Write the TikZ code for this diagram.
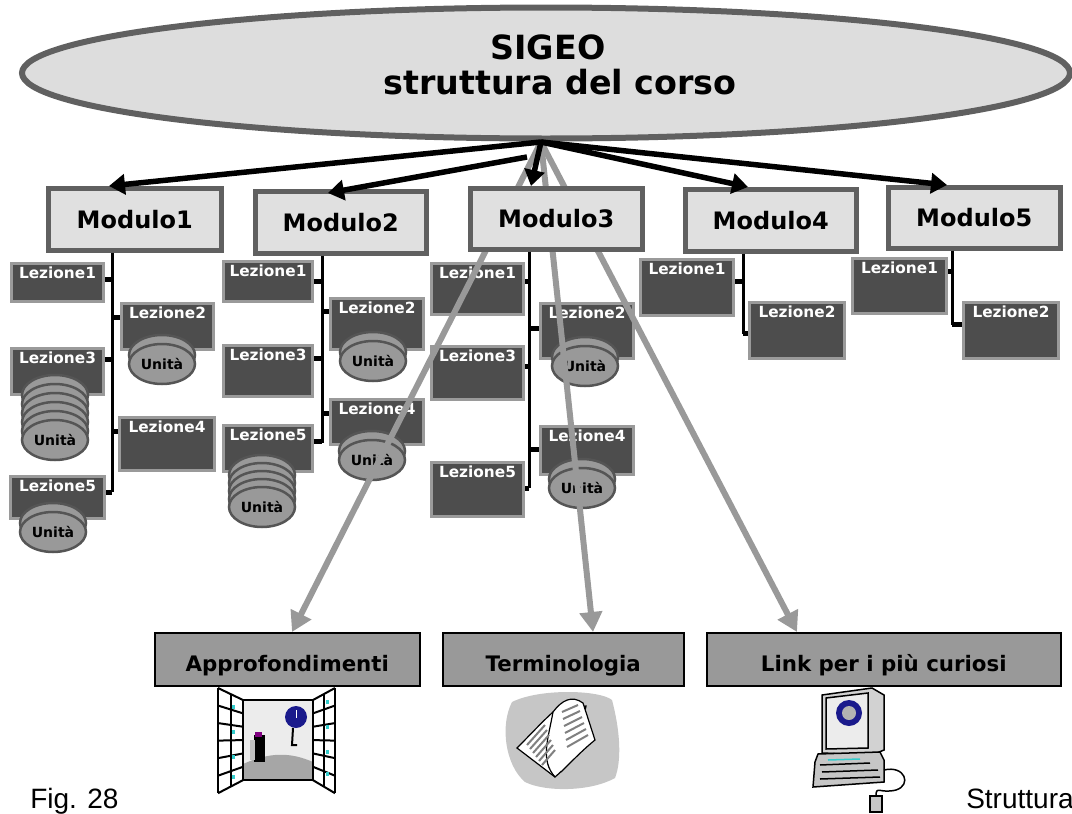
\documentclass[tikz,border=0pt]{standalone}
\usepackage{fontspec}
\setmainfont{DejaVu Sans}
\newfontfamily\capfont{Liberation Sans}
\usetikzlibrary{arrows.meta,shapes.geometric,calc}

\newlength\pxu \setlength\pxu{0.75pt}

\definecolor{ellfill}{HTML}{DDDDDD}
\definecolor{ellline}{HTML}{606060}
\definecolor{modfill}{HTML}{E0E0E0}
\definecolor{lesfill}{HTML}{4D4D4D}
\definecolor{lesline}{HTML}{9A9A9A}
\definecolor{diskfill}{HTML}{999999}
\definecolor{diskline}{HTML}{555555}
\definecolor{extfill}{HTML}{999999}
\definecolor{grayarrow}{HTML}{999999}
\definecolor{paneblue}{HTML}{33CCCC}
\definecolor{globeblue}{HTML}{1A1A8C}

\tikzset{
  course/.style={ellipse, draw=ellline, fill=ellfill, line width=6\pxu,
    minimum width=1048\pxu, minimum height=131\pxu, inner sep=0pt},
  coursetext/.style={font=\bfseries\fontsize{25}{26}\selectfont, inner sep=0pt, anchor=base},
  modbox/.style={rectangle, draw=ellline, fill=modfill, line width=4.5\pxu,
    anchor=north west, inner sep=0pt, font=\bfseries\fontsize{18}{20}\selectfont},
  lesbox/.style={rectangle, draw=lesline, fill=lesfill, line width=3\pxu,
    anchor=north west, inner sep=0pt},
  lestext/.style={text=white, font=\bfseries\fontsize{11.5}{12}\selectfont, inner sep=0pt},
  disk/.style={ellipse, draw=diskline, fill=diskfill, line width=2.5\pxu,
    minimum width=66\pxu, minimum height=40\pxu, inner sep=0pt,
    font=\bfseries\fontsize{10.5}{11}\selectfont},
  bus/.style={line width=3\pxu, black},
  stub/.style={line width=5\pxu, black},
  feed/.style={line width=5.5\pxu, black, -{Triangle[length=12pt,width=15pt]}},
  extra/.style={line width=6\pxu, grayarrow, -{Triangle[length=15pt,width=16.5pt]}},
  extbox/.style={rectangle, draw=black, fill=extfill, line width=1.5\pxu,
    anchor=north west, inner sep=0pt},
  exttext/.style={font=\bfseries\fontsize{16}{18}\selectfont, anchor=base, inner sep=0pt},
  captext/.style={font=\capfont\fontsize{21}{23}\selectfont, anchor=base west, inner sep=0pt},
}

% box from (x1,y1) to (x2,y2): style, name, x1, y1, x2, y2, text
\newcommand\boxfromto[7]{%
  \node[#1, minimum width={(#5-#3)*\pxu}, minimum height={(#6-#4)*\pxu}] (#2) at (#3,#4) {#7};}
% lesson box with its title near the top
\newcommand\lesson[6]{%
  \boxfromto{lesbox}{#1}{#2}{#3}{#4}{#5}{}%
  \node[lestext, anchor=north] (#1t) at ([yshift=-5\pxu]#1.north) {#6};}
% one unit disk: name, cx, cy
\newcommand\unitdisk[3]{%
  \node[disk] (#1b) at (#2,#3-9) {};
  \node[disk] (#1) at (#2,#3) {Unità};}
% a stack of unit disks: name, cx, cy, layers, spacing
\newcommand\unitstack[5]{%
  \foreach \k in {#4,...,1}{\node[disk] (#1s\k) at (#2,{#3-\k*#5}) {};}
  \node[disk] (#1) at (#2,#3) {Unità};}

\begin{document}
\begin{tikzpicture}[x=0.75pt,y=-0.75pt]
  \useasboundingbox (0,0) rectangle (1072,814);

  % course title
  \node[course] (course) at (546,73) {};
  \node[coursetext] (title1) at (548,59) {SIGEO};
  \node[coursetext] (title2) at (560,94) {struttura del corso};

  % ---------- lessons of Modulo1
  \coordinate (m1end) at (112,492);
  \lesson{m1l1}{10}{262}{102}{300}{Lezione1}
  \lesson{m1l2}{120}{302}{212}{348}{Lezione2}
  \lesson{m1l3}{10}{347}{102}{393}{Lezione3}
  \lesson{m1l4}{118}{416}{213}{469}{Lezione4}
  \lesson{m1l5}{9}{475}{103}{517}{Lezione5}
  \unitdisk{m1u2}{162}{364}
  \unitstack{m1u3}{55}{440}{5}{9}
  \unitdisk{m1u5}{53}{532}

  % ---------- lessons of Modulo2
  \coordinate (m2end) at (322,443);
  \lesson{m2l1}{222}{260}{311}{300}{Lezione1}
  \lesson{m2l2}{329}{297}{422}{348}{Lezione2}
  \lesson{m2l3}{222}{344}{311}{395}{Lezione3}
  \lesson{m2l4}{329}{398}{422}{443}{Lezione4}
  \lesson{m2l5}{222}{424}{311}{470}{Lezione5}
  \unitdisk{m2u2}{373}{361}
  \unitdisk{m2u4}{372}{460}
  \unitstack{m2u5}{262}{507}{4}{8}

  % ---------- lessons of Modulo3
  \coordinate (m3end) at (529,488);
  \lesson{m3l1}{430}{262}{522}{313}{Lezione1}
  \lesson{m3l2}{539}{302}{632}{357}{Lezione2}
  \lesson{m3l3}{430}{345}{522}{398}{Lezione3}
  \lesson{m3l4}{539}{425}{632}{473}{Lezione4}
  \lesson{m3l5}{430}{461}{522}{515}{Lezione5}
  \unitdisk{m3u2}{585}{366}
  \unitdisk{m3u4}{582}{488}

  % ---------- lessons of Modulo4 and Modulo5
  \coordinate (m4end) at (743,334);
  \lesson{m4l1}{639}{258}{732}{314}{Lezione1}
  \lesson{m4l2}{748}{301}{843}{357}{Lezione2}
  \coordinate (m5end) at (952,325);
  \lesson{m5l1}{851}{257}{945}{312}{Lezione1}
  \lesson{m5l2}{962}{301}{1057}{357}{Lezione2}

  % ---------- extra material boxes
  \boxfromto{extbox}{approf}{154}{632}{419}{685}{}
  \boxfromto{extbox}{termin}{442}{632}{683}{685}{}
  \boxfromto{extbox}{links}{706}{632}{1060}{685}{}
  \node[exttext] (approft) at ([yshift=-39\pxu]approf.north) {Approfondimenti};
  \node[exttext] (termint) at ([yshift=-39\pxu]termin.north) {Terminologia};
  \node[exttext] (linkst) at ([yshift=-39\pxu]links.north) {Link per i più curiosi};

  % grey links from the course to the extra material
  \coordinate (hub) at (541,142);
  \draw[extra] (hub) -- (approf.north -| 292,0);
  \draw[extra] (hub) -- (termin.north -| 593,0);
  \draw[extra] (hub) -- (links.north -| 797,0);

  % ---------- module boxes
  \boxfromto{modbox}{m1}{46}{186}{219}{248}{Modulo1}
  \boxfromto{modbox}{m2}{253}{189}{424}{251}{Modulo2}
  \boxfromto{modbox}{m3}{468}{186}{640}{247}{Modulo3}
  \boxfromto{modbox}{m4}{683}{187}{854}{249}{Modulo4}
  \boxfromto{modbox}{m5}{886}{185}{1058}{246}{Modulo5}

  % lesson buses and stubs
  \foreach \m in {1,...,5}{\draw[bus] (m\m end |- m\m.south) -- (m\m end);}
  \draw[stub] (m1l1.east |- 0,279) -- (m1end |- 0,279);
  \draw[stub] (m1l2.west |- 0,317) -- (m1end |- 0,317);
  \draw[stub] (m1l3.east |- 0,359) -- (m1end |- 0,359);
  \draw[stub] (m1l4.west |- 0,431) -- (m1end |- 0,431);
  \draw[stub] (m1l5.east |- 0,492) -- (m1end);
  \draw[stub] (m2l1.east |- 0,281) -- (m2end |- 0,281);
  \draw[stub] (m2l2.west |- 0,311) -- (m2end |- 0,311);
  \draw[stub] (m2l3.east |- 0,358) -- (m2end |- 0,358);
  \draw[stub] (m2l4.west |- 0,413) -- (m2end |- 0,413);
  \draw[stub] (m2l5.east |- 0,441) -- (m2end |- 0,441);
  \draw[stub] (m3l1.east |- 0,281) -- (m3end |- 0,281);
  \draw[stub] (m3l2.west |- 0,328) -- (m3end |- 0,328);
  \draw[stub] (m3l3.east |- 0,366) -- (m3end |- 0,366);
  \draw[stub] (m3l4.west |- 0,449) -- (m3end |- 0,449);
  \draw[stub] (m3l5.east |- 0,488) -- (m3end);
  \draw[stub] (m4l1.east |- 0,281) -- (m4end |- 0,281);
  \draw[stub] (m4l2.west |- 0,333) -- (m4end |- 0,333);
  \draw[stub] (m5l1.east |- 0,271) -- (m5end |- 0,271);
  \draw[stub] (m5l2.west |- 0,324) -- (m5end |- 0,324);

  % black links from the course to the modules
  \coordinate (hub2) at (527,157);
  \draw[feed] (hub) -- (m1.north -| 109,0);
  \draw[feed] (hub2) -- ([yshift=-4\pxu]m2.north -| 328,0);
  \draw[feed] (hub) -- (m3.north -| 531,0);
  \draw[feed] (hub) -- (m4.north -| 748,0);
  \draw[feed] (hub) -- (m5.north -| 947,0);

  % ---------- open window picture
  \begin{scope}[line width=1.5\pxu]
    \fill[gray!15] (243,700) rectangle (313,780);
    \fill[gray!70] (243,780) -- (243,764) .. controls (270,752) and (290,752) .. (313,762) -- (313,780) -- cycle;
    \draw (243,700) rectangle (313,780);
    \fill[black] (254,735) rectangle (265,762);
    \fill[violet] (255,732) rectangle (262,737);
    \fill[gray!50] (250,740) rectangle (255,760);
    \fill[globeblue] (296,717) circle (11);
    \draw[white, line width=1\pxu] (296,710) -- (296,718);
    \draw[line width=2\pxu] (293,728) -- (292,745) -- (297,745);
    % left shutter
    \fill[white] (218,688) -- (243,700) -- (243,780) -- (218,793) -- cycle;
    \foreach \t in {0,0.167,...,1.01}{\draw[line width=2\pxu] ($(218,688)!\t!(218,793)$) -- ($(243,700)!\t!(243,780)$);}
    \draw[line width=2\pxu] (218,688) -- (218,793) (230.5,694) -- (230.5,786.5) (243,700) -- (243,780);
    \foreach \y in {705,730,755,775}{\fill[paneblue] (232,\y) rectangle (235,\y+4);}
    % right shutter
    \fill[white] (313,700) -- (335,688) -- (335,793) -- (313,780) -- cycle;
    \foreach \t in {0,0.167,...,1.01}{\draw[line width=2\pxu] ($(313,700)!\t!(313,780)$) -- ($(335,688)!\t!(335,793)$);}
    \draw[line width=2\pxu] (313,700) -- (313,780) (324,694) -- (324,786.5) (335,688) -- (335,793);
    \foreach \y in {700,725,750,772}{\fill[paneblue] (326,\y) rectangle (329,\y+4);}
  \end{scope}

  % ---------- open book picture
  \fill[gray!45] (512,702) .. controls (540,688) and (600,690) .. (612,700)
     .. controls (620,730) and (622,760) .. (615,778)
     .. controls (590,792) and (545,792) .. (525,782)
     .. controls (505,765) and (500,725) .. (512,702) -- cycle;
  \begin{scope}[line width=1.2\pxu]
    \draw[fill=white] (517,748) .. controls (530,735) and (542,722) .. (553,712)
      -- (586,706) .. controls (580,735) and (576,760) .. (555,777) -- cycle;
    \draw[fill=white] (553,712) .. controls (562,700) and (572,695) .. (583,703)
      -- (595,740) .. controls (585,748) and (575,758) .. (561,772);
    \draw (553,712) .. controls (548,740) and (540,760) .. (555,777);
    \foreach \i in {0,...,5}{\draw[gray, line width=2\pxu] (527+\i*3,745+\i*4) -- (545+\i*2,725+\i*5);}
    \foreach \i in {0,...,5}{\draw[gray, line width=2\pxu] (562+\i*1,712+\i*7) -- (578+\i*2,705+\i*6);}
  \end{scope}

  % ---------- computer picture
  \begin{scope}[line width=1.5\pxu]
    \draw[fill=gray!35] (822,695) -- (872,688) -- (884,695) -- (884,750) -- (872,755) -- (822,753) -- cycle;
    \draw[fill=gray!15] (826,698) -- (868,693) -- (868,748) -- (826,749) -- cycle;
    \fill[globeblue] (849,713) circle (13);
    \fill[gray!60] (849,713) circle (7);
    \draw[fill=gray!45] (818,754) -- (880,752) -- (884,760) -- (884,782) -- (813,787) -- (815,762) -- cycle;
    \draw (820,765) -- (870,763) (822,772) -- (878,770) (820,779) -- (880,777);
    \draw[paneblue] (828,760) -- (860,759);
    \draw (884,770) .. controls (905,765) and (912,785) .. (896,790)
      .. controls (880,794) and (876,785) .. (876,796);
    \draw[fill=gray!45] (870,796) rectangle (882,812);
  \end{scope}

  % caption
  \node[captext] (fig) at (30,808) {Fig. 28};
  \node[captext] (strut) at (966,808) {Struttura};
\end{tikzpicture}
\end{document}
